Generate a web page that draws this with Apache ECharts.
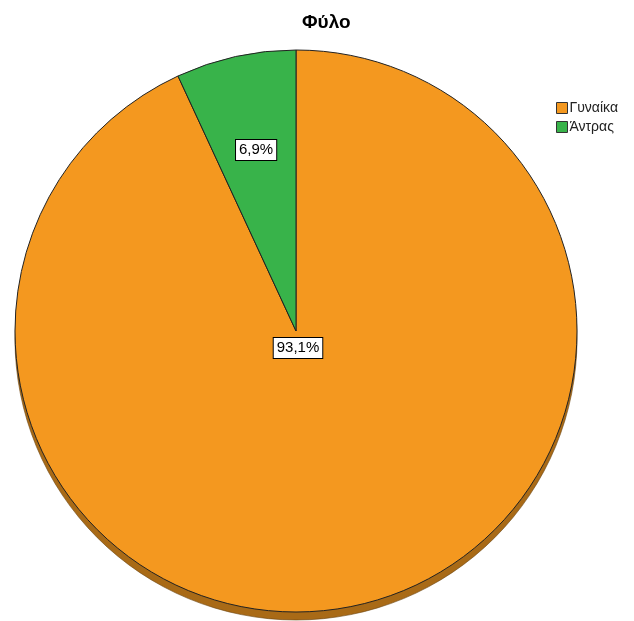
<!DOCTYPE html>
<html>
<head>
<meta charset="utf-8">
<script src="https://cdn.jsdelivr.net/npm/echarts@6/dist/echarts.min.js"></script>
<style>
  html, body { margin: 0; padding: 0; background: #fff; }
  #chart { width: 634px; height: 621px; }
</style>
</head>
<body>
<div id="chart"></div>
<script>
// Gender breakdown (percent)
const categories = ['Γυναίκα', 'Άντρας'];
const percents = [93.1, 6.9];
const sliceColors = ['#F4981F', '#38B34A'];
const depthColors = ['#A96A16', '#247A30'];

const CX = 296, CY = 331, R = 281, DEPTH = 8;

const fmt = v => v.toFixed(1).replace('.', ',') + '%';
const total = percents.reduce((a, b) => a + b, 0);

const chart = echarts.init(document.getElementById('chart'), null, { renderer: 'canvas' });

const labelBox = {
  show: true,
  color: '#000',
  fontFamily: 'Liberation Sans, Arial, sans-serif',
  fontSize: 15,
  backgroundColor: '#fff',
  borderColor: '#000',
  borderWidth: 1,
  padding: [3, 3, 2, 3],
  formatter: p => fmt(p.value)
};

chart.setOption({
  animation: false,
  title: {
    text: 'Φύλο',
    left: 297,
    top: 8,
    textStyle: { fontFamily: 'Liberation Sans, Arial, sans-serif', fontSize: 19, fontWeight: 'bold', color: '#000' }
  },
  legend: {
    orient: 'vertical',
    left: 551,
    top: 96,
    icon: 'rect',
    itemWidth: 11,
    itemHeight: 11,
    itemGap: 5,
    data: categories,
    itemStyle: { borderColor: '#333', borderWidth: 1 },
    textStyle: { fontFamily: 'Liberation Sans, Arial, sans-serif', fontSize: 14, color: '#222', padding: [0, 0, 0, -3] }
  },
  series: [
    {
      // extruded depth underneath the top face
      type: 'pie',
      silent: true,
      z: 1,
      center: [CX, CY + DEPTH],
      radius: [0, R],
      startAngle: 90,
      clockwise: true,
      label: { show: false },
      labelLine: { show: false },
      legendHoverLink: false,
      itemStyle: { borderColor: '#6b4410', borderWidth: 0.6 },
      data: categories.map((c, i) => ({
        name: c + ' ',
        value: percents[i],
        itemStyle: { color: depthColors[i] }
      }))
    },
    {
      type: 'pie',
      z: 2,
      center: [CX, CY],
      radius: [0, R],
      startAngle: 90,
      clockwise: true,
      avoidLabelOverlap: false,
      labelLine: { show: false },
      itemStyle: { borderColor: '#222', borderWidth: 1 },
      emphasis: { disabled: true },
      label: labelBox,
      labelLayout: function (p) {
        if (p.dataIndex === 0) {
          return { x: CX + 2, y: CY + 17, align: 'center', verticalAlign: 'middle' };
        }
        // mid-angle of the small slice, measured anticlockwise from the top
        const frac = percents[1] / total;
        const a = frac * Math.PI; // half the sweep
        const rr = R * 0.66;
        return {
          x: CX - rr * Math.sin(a),
          y: CY - rr * Math.cos(a),
          align: 'center',
          verticalAlign: 'middle'
        };
      },
      data: categories.map((c, i) => ({
        name: c,
        value: percents[i],
        itemStyle: { color: sliceColors[i] }
      }))
    }
  ]
});
</script>
</body>
</html>
